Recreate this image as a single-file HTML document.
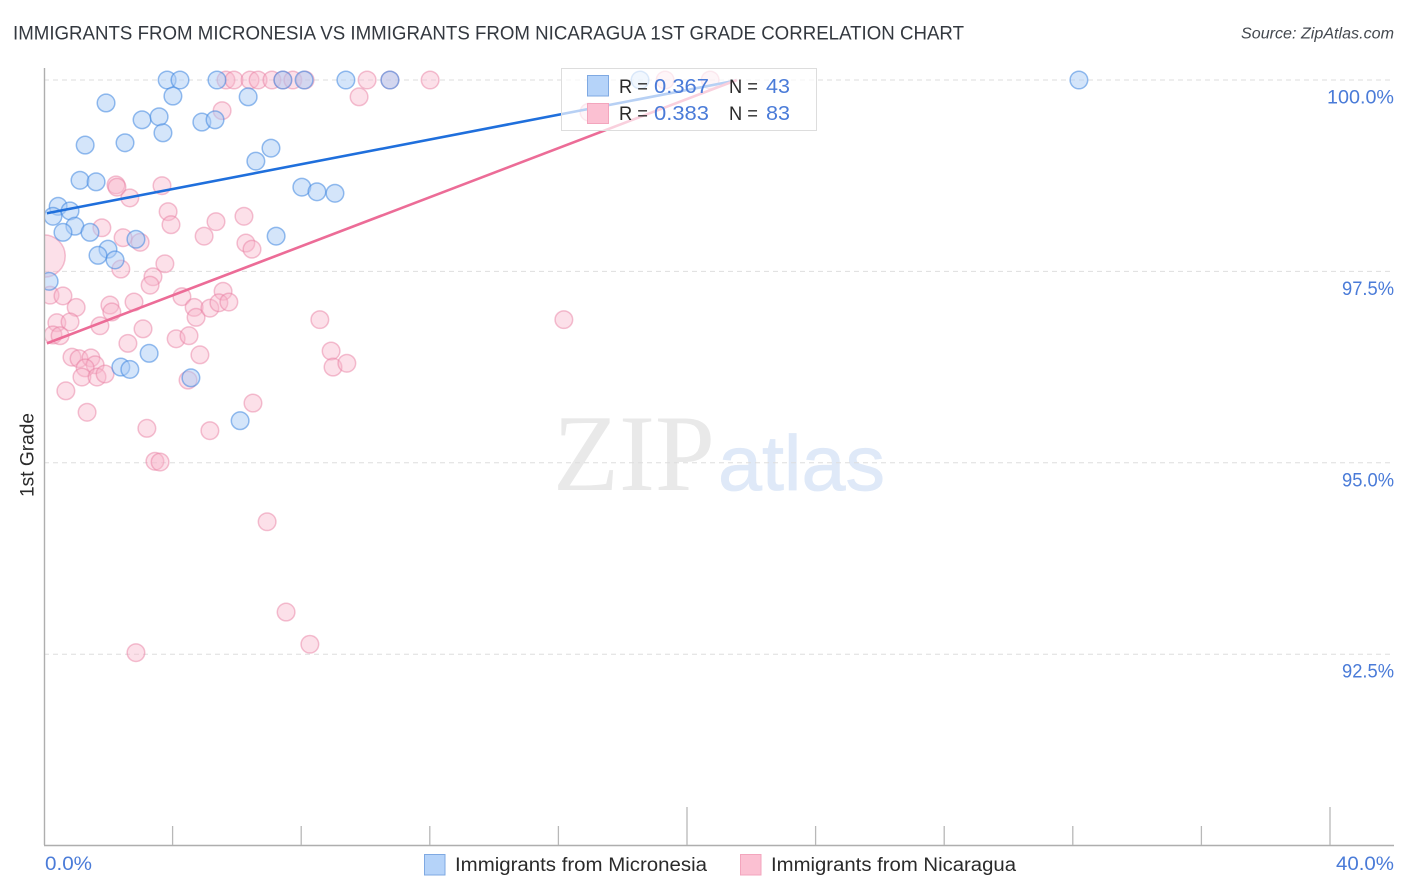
<!DOCTYPE html>
<html lang="en">
<head>
<meta charset="utf-8">
<title>Immigrants from Micronesia vs Immigrants from Nicaragua 1st Grade Correlation Chart</title>
<style>
html,body{margin:0;padding:0;background:#fff;}
svg{display:block;font-family:"Liberation Sans",sans-serif;}
</style>
</head>
<body>
<svg id="chart" xmlns="http://www.w3.org/2000/svg" width="1406" height="892" viewBox="0 0 1406 892">
  <defs>
    <clipPath id="plot-clip"><rect x="44" y="60" width="1350" height="785"/></clipPath>
  </defs>
  <rect x="0" y="0" width="1406" height="892" fill="#ffffff"/>
  <text x="13" y="39.5" font-size="19.5" fill="#33383f" textLength="951" lengthAdjust="spacingAndGlyphs">IMMIGRANTS FROM MICRONESIA VS IMMIGRANTS FROM NICARAGUA 1ST GRADE CORRELATION CHART</text>
  <text x="1241" y="38.5" font-size="15.5" font-style="italic" fill="#444950" textLength="153" lengthAdjust="spacingAndGlyphs">Source: ZipAtlas.com</text>
  <text x="553" y="490" font-family="'Liberation Serif',serif" font-size="109" fill="#e9e9e9" textLength="162" lengthAdjust="spacingAndGlyphs">ZIP</text>
  <text x="718" y="490" font-family="'Liberation Sans',sans-serif" font-size="78" fill="#dfe9f8" stroke="#dfe9f8" stroke-width="0.8" textLength="167" lengthAdjust="spacingAndGlyphs">atlas</text>
  <g id="grid"></g>
  <g id="y-labels"></g>
  <g id="pink-points" clip-path="url(#plot-clip)"></g>
  <g id="blue-points" clip-path="url(#plot-clip)"></g>
  <g id="trends"></g>
  <line x1="44.5" y1="68" x2="44.5" y2="845" stroke="#aeaeae" stroke-width="1.4"/>
  <line x1="44" y1="845.5" x2="1394" y2="845.5" stroke="#aeaeae" stroke-width="1.4"/>
  <g id="x-ticks"></g>
  <text transform="translate(33.5,497) rotate(-90)" x="0" y="0" font-size="19" fill="#2a2a2a" textLength="84" lengthAdjust="spacingAndGlyphs">1st Grade</text>
  <text x="45" y="870" font-size="19" fill="#4a7bd8" textLength="47" lengthAdjust="spacingAndGlyphs">0.0%</text>
  <text x="1336" y="870" font-size="19" fill="#4a7bd8" textLength="58" lengthAdjust="spacingAndGlyphs">40.0%</text>

  <g>
    <rect x="561.5" y="68.5" width="255" height="62" fill="#ffffff" fill-opacity="0.68" stroke="#dddddd" stroke-width="1"/>
    <rect x="587.5" y="75.5" width="21" height="20.5" fill="#b5d3f9" stroke="#7fa9e2" stroke-width="1"/>
    <rect x="587.5" y="103.5" width="21" height="20" fill="#fbc0d2" stroke="#f3a5bd" stroke-width="1"/>
    <text x="619" y="93" font-size="19" fill="#2a2a2a" textLength="29" lengthAdjust="spacingAndGlyphs">R =</text>
    <text x="654" y="93" font-size="20" fill="#4a7bd8" textLength="55" lengthAdjust="spacingAndGlyphs">0.367</text>
    <text x="729" y="93" font-size="19" fill="#2a2a2a" textLength="29" lengthAdjust="spacingAndGlyphs">N =</text>
    <text x="766" y="93" font-size="20" fill="#4a7bd8" textLength="24" lengthAdjust="spacingAndGlyphs">43</text>
    <text x="619" y="120" font-size="19" fill="#2a2a2a" textLength="29" lengthAdjust="spacingAndGlyphs">R =</text>
    <text x="654" y="120" font-size="20" fill="#4a7bd8" textLength="55" lengthAdjust="spacingAndGlyphs">0.383</text>
    <text x="729" y="120" font-size="19" fill="#2a2a2a" textLength="29" lengthAdjust="spacingAndGlyphs">N =</text>
    <text x="766" y="120" font-size="20" fill="#4a7bd8" textLength="24" lengthAdjust="spacingAndGlyphs">83</text>
  </g>

  <g>
    <rect x="424.5" y="854.5" width="20.5" height="20.5" fill="#b5d3f9" stroke="#7fa9e2" stroke-width="1"/>
    <text x="455" y="871" font-size="19" fill="#2a2a2a" textLength="252" lengthAdjust="spacingAndGlyphs">Immigrants from Micronesia</text>
    <rect x="740.5" y="854.5" width="20.5" height="20.5" fill="#fbc0d2" stroke="#f3a5bd" stroke-width="1"/>
    <text x="771" y="871" font-size="19" fill="#2a2a2a" textLength="245" lengthAdjust="spacingAndGlyphs">Immigrants from Nicaragua</text>
  </g>
</svg>
<script>
const yTicks = [100, 97.5, 95, 92.5];
const yTickLabels = ["100.0%", "97.5%", "95.0%", "92.5%"];
const xTicks = [0, 4, 8, 12, 16, 20, 24, 28, 32, 36, 40];
const xMajorTicks = [20, 40];

const blueX = [3.83,4.23,5.38,9.39,10.76,7.43,8.09,32.19,18.54,4.01,6.35,1.93,3.05,3.58,3.70,4.91,5.32,1.28,2.52,6.59,7.06,1.12,1.62,8.02,8.49,9.05,0.44,0.81,0.28,0.96,0.59,1.43,2.86,7.22,1.99,1.68,2.21,0.16,3.27,2.39,2.67,4.57,6.10];
const blueY = [100,100,100,100,100,100,100,100,100,99.79,99.78,99.70,99.48,99.52,99.31,99.45,99.48,99.15,99.18,98.94,99.11,98.69,98.67,98.60,98.54,98.52,98.35,98.29,98.22,98.09,98.01,98.01,97.92,97.96,97.79,97.71,97.65,97.37,96.43,96.25,96.22,96.11,95.55];

const pinkX = [5.66,5.91,6.41,6.66,7.09,7.43,7.74,8.12,10.05,10.76,12.01,19.32,20.72,5.54,9.80,16.95,2.24,2.27,2.67,3.67,3.86,3.95,5.35,4.98,6.22,6.28,6.47,1.80,2.46,2.99,3.76,2.39,3.39,3.30,0,5.57,0.19,0.59,1.00,2.05,2.11,2.80,4.29,4.67,4.73,5.16,5.44,5.75,0.40,0.81,1.74,3.08,0.28,0.50,2.61,4.11,4.51,4.85,0.87,1.09,1.46,1.59,1.28,1.18,1.65,1.90,4.48,0.68,1.34,3.20,5.16,6.50,3.45,3.61,8.58,8.93,8.99,9.42,16.17,6.94,7.53,8.27,2.86];
const pinkY = [100,100,100,100,100,100,100,100,100,100,100,100,100,99.60,99.78,99.58,98.63,98.60,98.46,98.62,98.28,98.11,98.15,97.96,98.22,97.87,97.79,98.07,97.94,97.88,97.60,97.53,97.43,97.32,97.70,97.24,97.19,97.18,97.03,97.06,96.97,97.10,97.17,97.03,96.90,97.02,97.09,97.10,96.83,96.84,96.79,96.75,96.67,96.66,96.56,96.62,96.66,96.41,96.38,96.36,96.37,96.28,96.24,96.12,96.12,96.16,96.08,95.94,95.66,95.45,95.42,95.78,95.02,95.01,96.87,96.46,96.25,96.30,96.87,94.23,93.05,92.63,92.52];
const pinkWeights = {34: 5.8};

const blueTrendX = [0.09, 21.49];
const blueTrendY = [98.26, 99.99];
const pinkTrendX = [0.09, 21.55];
const pinkTrendY = [96.56, 100];

const NS = "http://www.w3.org/2000/svg";
function xScale(v) { return 44 + v * 32.15; }
function yScale(v) { return 80 + (100 - v) * 76.56; }

const grid = document.getElementById("grid");
const yLabels = document.getElementById("y-labels");
yTicks.forEach(function (t, i) {
  const line = document.createElementNS(NS, "line");
  
  
  line.setAttribute("x1", 44);
  line.setAttribute("x2", 1394);
  line.setAttribute("y1", yScale(t));
  line.setAttribute("y2", yScale(t));
  line.setAttribute("stroke", "#dedede");
  line.setAttribute("stroke-width", "1");
  line.setAttribute("stroke-dasharray", "5 4");
  grid.appendChild(line);

  const label = document.createElementNS(NS, "text");
  
  
  const w = yTickLabels[i].length === 6 ? 67 : 52;
  label.setAttribute("x", 1394 - w);
  label.setAttribute("y", yScale(t) + 23.5);
  label.setAttribute("font-size", "19");
  label.setAttribute("fill", "#4a7bd8");
  label.setAttribute("textLength", w);
  label.setAttribute("lengthAdjust", "spacingAndGlyphs");
  label.textContent = yTickLabels[i];
  yLabels.appendChild(label);
});

const xTickGroup = document.getElementById("x-ticks");
xTicks.forEach(function (t) {
  if (t === 0) return;
  const tick = document.createElementNS(NS, "line");
  
  
  const major = xMajorTicks.indexOf(t) >= 0;
  tick.setAttribute("x1", xScale(t));
  tick.setAttribute("x2", xScale(t));
  tick.setAttribute("y1", major ? 807 : 826);
  tick.setAttribute("y2", 845);
  tick.setAttribute("stroke", "#b8b8b8");
  tick.setAttribute("stroke-width", "1.3");
  xTickGroup.appendChild(tick);
});

const pinkGroup = document.getElementById("pink-points");
pinkX.forEach(function (v, i) {
  const c = document.createElementNS(NS, "circle");
  
  
  c.setAttribute("cx", xScale(v));
  c.setAttribute("cy", yScale(pinkY[i]));
  c.setAttribute("r", 8.8 * Math.sqrt(pinkWeights[i] || 1));
  c.setAttribute("fill", "#f9b4ca");
  c.setAttribute("fill-opacity", "0.42");
  c.setAttribute("stroke", "#e87da0");
  c.setAttribute("stroke-opacity", "0.48");
  c.setAttribute("stroke-width", "1.5");
  pinkGroup.appendChild(c);
});

const blueGroup = document.getElementById("blue-points");
blueX.forEach(function (v, i) {
  const c = document.createElementNS(NS, "circle");
  
  
  c.setAttribute("cx", xScale(v));
  c.setAttribute("cy", yScale(blueY[i]));
  c.setAttribute("r", 8.8);
  c.setAttribute("fill", "#a9ccf6");
  c.setAttribute("fill-opacity", "0.5");
  c.setAttribute("stroke", "#3f86e0");
  c.setAttribute("stroke-opacity", "0.55");
  c.setAttribute("stroke-width", "1.5");
  blueGroup.appendChild(c);
});

const trends = document.getElementById("trends");
const blueLine = document.createElementNS(NS, "line");


blueLine.setAttribute("x1", xScale(blueTrendX[0]));
blueLine.setAttribute("y1", yScale(blueTrendY[0]));
blueLine.setAttribute("x2", xScale(blueTrendX[1]));
blueLine.setAttribute("y2", yScale(blueTrendY[1]));
blueLine.setAttribute("stroke", "#1f6fdc");
blueLine.setAttribute("stroke-width", "2.6");
trends.appendChild(blueLine);

const pinkLine = document.createElementNS(NS, "line");


pinkLine.setAttribute("x1", xScale(pinkTrendX[0]));
pinkLine.setAttribute("y1", yScale(pinkTrendY[0]));
pinkLine.setAttribute("x2", xScale(pinkTrendX[1]));
pinkLine.setAttribute("y2", yScale(pinkTrendY[1]));
pinkLine.setAttribute("stroke", "#ec6c97");
pinkLine.setAttribute("stroke-width", "2.6");
trends.appendChild(pinkLine);
</script>
</body>
</html>
